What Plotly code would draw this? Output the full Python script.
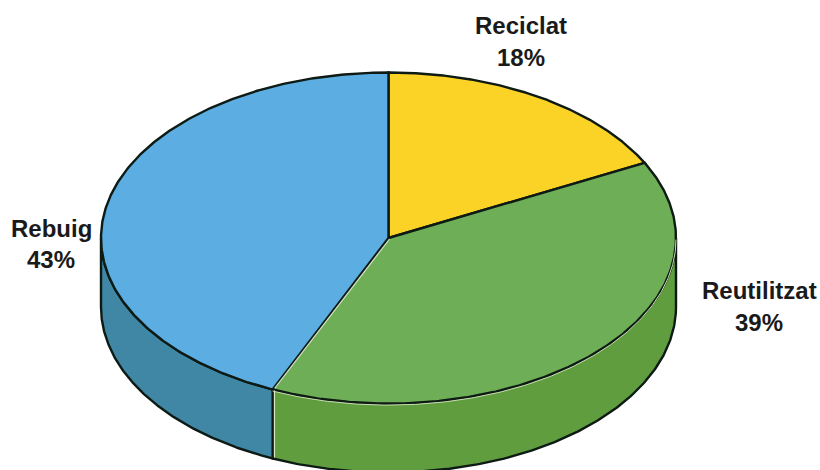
import numpy as np
import plotly.graph_objects as go

categories = ["Reciclat", "Reutilitzat", "Rebuig"]
percent_labels = [18, 39, 43]
slice_shares = [17.5, 39.1, 43.4]
top_colors = ["#FBD327", "#6DAE57", "#5BADE2"]
side_colors = ["#C9A820", "#5F9D3F", "#3F87A4"]
label_positions = [(521, 25, 57), (759, 290, 322), (51, 228, 259)]

CX, CY, RX, RY, DEPTH = 388.5, 238.0, 287.5, 165.5, 69.0
OUT = "#0E1A14"


def pt(theta, dy=0.0):
    return CX + RX * np.sin(theta), CY - RY * np.cos(theta) + dy


fig = go.Figure()
fracs = np.array(slice_shares, dtype=float) / sum(slice_shares)
edges = np.concatenate([[0.0], np.cumsum(fracs)]) * 2 * np.pi

# side walls (front half only: angles between 90 and 270 degrees)
for i in range(len(slice_shares)):
    a = max(edges[i], np.pi / 2)
    b = min(edges[i + 1], 3 * np.pi / 2)
    if b <= a:
        continue
    t = np.linspace(a, b, 200)
    x1, y1 = pt(t)
    x2, y2 = pt(t[::-1], DEPTH)
    fig.add_trace(go.Scatter(
        x=np.concatenate([x1, x2, x1[:1]]), y=np.concatenate([y1, y2, y1[:1]]),
        mode="lines", fill="toself", fillcolor=side_colors[i],
        line=dict(color=OUT, width=2.4), hoverinfo="skip", showlegend=False))

# top wedges
for i in range(len(slice_shares)):
    t = np.linspace(edges[i], edges[i + 1], 300)
    x, y = pt(t)
    fig.add_trace(go.Scatter(
        x=np.concatenate([[CX], x, [CX]]), y=np.concatenate([[CY], y, [CY]]),
        mode="lines", fill="toself", fillcolor=top_colors[i],
        line=dict(color=OUT, width=2.4), hoverinfo="skip", showlegend=False))

# pale highlight along the green rim and the green/blue joints
t = np.linspace(np.pi / 2, edges[2], 200)
x, y = pt(t, 1.6)
fig.add_trace(go.Scatter(x=x, y=y, mode="lines",
                         line=dict(color="#C9DDB0", width=1),
                         hoverinfo="skip", showlegend=False))
xa, ya = pt(np.array([edges[2], edges[2]]))
fig.add_trace(go.Scatter(x=[xa[0] + 2, CX + 1], y=[ya[0] - 1, CY + 1], mode="lines",
                         line=dict(color="#D8E8C8", width=1.2),
                         hoverinfo="skip", showlegend=False))
xb, yb = pt(np.array([edges[2]]), DEPTH)
xc, yc = pt(np.array([edges[2]]))
fig.add_trace(go.Scatter(x=[xc[0] + 1.8, xb[0] + 1.8], y=[yc[0] + 1, yb[0] - 1], mode="lines",
                         line=dict(color="#D8E8C8", width=1.2),
                         hoverinfo="skip", showlegend=False))

label_font = dict(family="Liberation Sans", size=24, color="#1A1A1A", weight=700)
annotations = []
for c, v, (lx, y1, y2) in zip(categories, percent_labels, label_positions):
    for text, ly in ((c, y1), (f"{v}%", y2)):
        annotations.append(dict(x=lx, y=ly, xref="x", yref="y", text=text, showarrow=False,
                                align="center", xanchor="center", yanchor="middle",
                                font=label_font))

fig.update_layout(
    width=820, height=470, margin=dict(l=0, r=0, t=0, b=0),
    paper_bgcolor="white", plot_bgcolor="white",
    xaxis=dict(range=[0, 820], visible=False, fixedrange=True),
    yaxis=dict(range=[470, 0], visible=False, fixedrange=True),
    annotations=annotations,
)
fig.write_html("out.html", config={"displayModeBar": False},
               post_script="document.body.style.margin='0';document.body.style.overflow='hidden';")
